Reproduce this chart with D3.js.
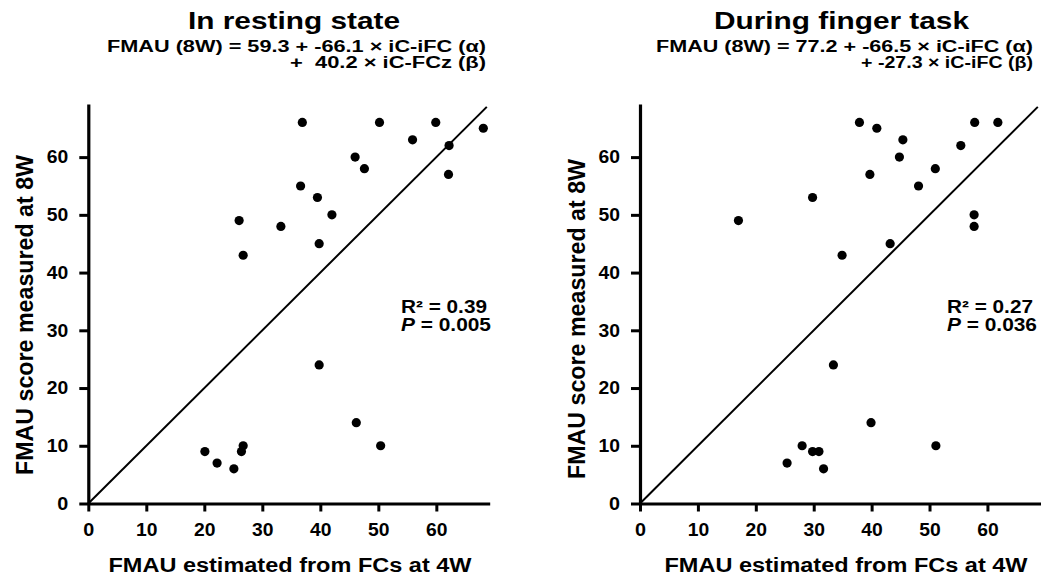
<!DOCTYPE html>
<html lang="en">
<head>
<meta charset="utf-8">
<script src="https://d3js.org/d3.v7.min.js"></script>
<style>
  body { margin: 0; background: #fff; }
  svg text { font-family: "Liberation Sans", Arial, sans-serif; font-weight: bold; fill: #000; }
</style>
</head>
<body>
<div id="chart"></div>
<script>
// data
var restX = [36.9, 50.2, 59.9, 68.1, 55.9, 62.2, 46.0, 47.6, 62.1, 36.6, 39.5, 42.0, 26.0, 33.2, 39.8, 26.7,
             39.8, 46.2, 50.4, 20.1, 22.2, 25.1, 26.4, 26.7];
var restY = [66, 66, 66, 65, 63, 62, 60, 58, 57, 55, 53, 50, 49, 48, 45, 43,
             24, 14, 10, 9, 7, 6, 9, 10];
var taskX = [37.9, 40.9, 57.8, 61.8, 45.4, 55.4, 44.8, 51.0, 39.7, 48.1, 29.8, 57.7, 57.7, 17.0, 43.2, 34.9,
             33.4, 39.9, 51.1, 28.0, 29.8, 30.9, 25.4, 31.7];
var taskY = [66, 65, 66, 66, 63, 62, 60, 58, 57, 55, 53, 50, 48, 49, 45, 43,
             24, 14, 10, 10, 9, 9, 7, 6];
var ticks = [0, 10, 20, 30, 40, 50, 60];
var titles = ["In resting state", "During finger task"];
var eqLine1 = ["FMAU (8W) = 59.3 + -66.1 \u00d7 iC-iFC (\u03b1)", "FMAU (8W) = 77.2 + -66.5 \u00d7 iC-iFC (\u03b1)"];
var eqLine2 = ["+\u00a0 40.2 \u00d7 iC-FCz (\u03b2)", "+ -27.3 \u00d7 iC-iFC (\u03b2)"];
var r2 = ["0.39", "0.27"];
var pval = ["0.005", "0.036"];
var xTitle = "FMAU estimated from FCs at 4W";
var yTitle = "FMAU score measured at 8W";

var width = 1041, height = 580;
var maxV = 69.2;

var svg = d3.select("#chart").append("svg")
    .attr("width", width)
    .attr("height", height);

// panel layout
var panels = [
  { xs: restX, ys: restY, left: 88.3, right: 489.7, titleX: 294, titleLen: 212,
    eqRight: 486, eq1Len: 379, eq2Len: 196, statX: 401, ylabX: 33, ylabY: 315, xlabX: 290 },
  { xs: taskX, ys: taskY, left: 640, right: 1040.7, titleX: 841.5, titleLen: 255,
    eqRight: 1033, eq1Len: 377, eq2Len: 172, statX: 947, ylabX: 585, ylabY: 319, xlabX: 846 }
];

function label(g, txt, x, y, size, len, anchor) {
  var t = g.append("text")
      .attr("x", x).attr("y", y)
      .attr("font-size", size)
      .attr("text-anchor", anchor || "start")
      .text(txt);
  if (len) t.attr("textLength", len).attr("lengthAdjust", "spacingAndGlyphs");
  return t;
}

panels.forEach(function(p, i) {
  var g = svg.append("g");

  var x = d3.scaleLinear().domain([0, maxV]).range([p.left, p.right]);
  var y = d3.scaleLinear().domain([0, maxV]).range([503.5, 104]);

  // identity line
  g.append("line")
      .attr("x1", x(0)).attr("y1", y(0))
      .attr("x2", x(68.7)).attr("y2", y(68.7))
      .attr("stroke", "#000")
      .attr("stroke-width", 2);

  // axes
  var xAxis = g.append("g")
      .attr("transform", "translate(0," + y(0) + ")")
      .call(d3.axisBottom(x).tickValues(ticks).tickSize(8).tickPadding(12).tickSizeOuter(0));
  var yAxis = g.append("g")
      .attr("transform", "translate(" + x(0) + ",0)")
      .call(d3.axisLeft(y).tickValues(ticks).tickSize(9).tickPadding(11).tickSizeOuter(0));

  [xAxis, yAxis].forEach(function(a) {
    a.select(".domain").attr("stroke-width", 3.2);
    a.selectAll(".tick line").attr("stroke-width", 3);
    a.selectAll(".tick text")
        .attr("font-size", 18)
        .attr("font-family", "Liberation Sans, Arial, sans-serif")
        .attr("font-weight", "bold")
        .attr("fill", "#000")
        .attr("textLength", function(d) { return d < 10 ? 11 : 21.5; })
        .attr("lengthAdjust", "spacingAndGlyphs");
  });

  // points
  g.append("g").selectAll("circle")
      .data(p.xs.map(function(v, k) { return [v, p.ys[k]]; }))
      .enter().append("circle")
      .attr("cx", function(d) { return x(d[0]); })
      .attr("cy", function(d) { return y(d[1]); })
      .attr("r", 4.6)
      .attr("fill", "#000");

  // titles and equations
  label(g, titles[i], p.titleX, 29, 24, p.titleLen, "middle");
  label(g, eqLine1[i], p.eqRight, 52, 15.8, p.eq1Len, "end");
  label(g, eqLine2[i], p.eqRight, 68.3, 15.8, p.eq2Len, "end");

  // stats
  label(g, "R\u00b2 = " + r2[i], p.statX, 312.7, 17.5, 86, "start");
  var pt = g.append("text")
      .attr("x", p.statX).attr("y", 330.7)
      .attr("font-size", 17.5)
      .attr("textLength", 90)
      .attr("lengthAdjust", "spacingAndGlyphs");
  pt.append("tspan").attr("font-style", "italic").text("P");
  pt.append("tspan").text(" = " + pval[i]);

  // axis titles
  label(g, xTitle, p.xlabX, 572, 19.5, 363, "middle");
  label(g, yTitle, 0, 0, 23, 320, "middle")
      .attr("transform", "translate(" + p.ylabX + "," + p.ylabY + ") rotate(-90)");
});
</script>
</body>
</html>
